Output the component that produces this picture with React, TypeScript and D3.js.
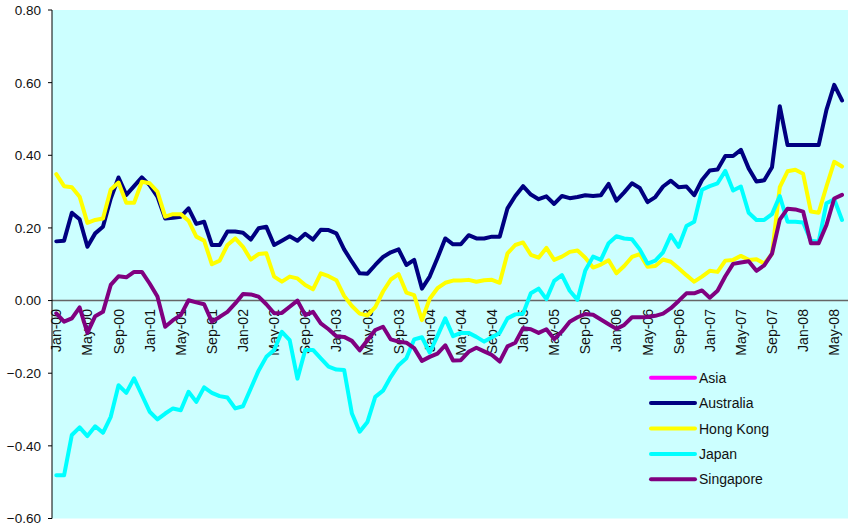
import React from "react";
import * as d3 from "d3";

const MONTHS = ["Jan","Feb","Mar","Apr","May","Jun","Jul","Aug","Sep","Oct","Nov","Dec"];
const categories: string[] = d3.range(102).map(
  (i) => `${MONTHS[i % 12]}-${String(Math.floor(i / 12)).padStart(2, "0")}`
);
const tickLabels = [
  "Jan-00","May-00","Sep-00","Jan-01","May-01","Sep-01","Jan-02","May-02","Sep-02",
  "Jan-03","May-03","Sep-03","Jan-04","May-04","Sep-04","Jan-05","May-05","Sep-05",
  "Jan-06","May-06","Sep-06","Jan-07","May-07","Sep-07","Jan-08","May-08",
];
const yTicks = [0.8, 0.6, 0.4, 0.2, 0, -0.2, -0.4, -0.6];

const asia: number[] = [];
const australia = [
  0.163,0.165,0.242,0.224,0.148,0.185,0.203,0.281,0.339,0.291,0.315,0.339,
  0.318,0.286,0.226,0.228,0.231,0.254,0.211,0.217,0.153,0.153,0.19,0.19,
  0.187,0.168,0.199,0.203,0.153,0.165,0.177,0.165,0.184,0.168,0.195,0.194,
  0.185,0.141,0.107,0.075,0.074,0.098,0.12,0.133,0.141,0.098,0.112,0.033,
  0.066,0.117,0.171,0.155,0.155,0.18,0.171,0.171,0.176,0.176,0.254,0.288,
  0.315,0.292,0.279,0.287,0.266,0.288,0.282,0.285,0.29,0.288,0.29,0.321,
  0.275,0.298,0.323,0.31,0.271,0.285,0.314,0.33,0.312,0.314,0.29,0.332,
  0.358,0.361,0.398,0.398,0.415,0.364,0.328,0.331,0.367,0.535,0.428,0.428,
  0.428,0.428,0.428,0.525,0.594,0.551,
];
const hongKong = [
  0.348,0.315,0.312,0.286,0.214,0.222,0.226,0.306,0.325,0.269,0.269,0.327,
  0.323,0.3,0.231,0.238,0.238,0.22,0.176,0.165,0.1,0.11,0.153,0.171,
  0.148,0.113,0.128,0.13,0.066,0.052,0.066,0.061,0.043,0.031,0.075,0.067,
  0.056,0.013,-0.015,-0.036,-0.041,-0.018,0.025,0.058,0.073,0.022,0.015,-0.054,
  0.005,0.034,0.049,0.055,0.055,0.057,0.052,0.056,0.057,0.049,0.13,0.153,
  0.16,0.126,0.118,0.145,0.112,0.121,0.134,0.138,0.118,0.091,0.099,0.111,
  0.075,0.095,0.12,0.128,0.093,0.095,0.113,0.107,0.089,0.07,0.052,0.066,
  0.082,0.079,0.11,0.112,0.123,0.112,0.114,0.102,0.128,0.312,0.356,0.36,
  0.349,0.245,0.242,0.314,0.382,0.369,
];
const japan = [
  -0.481,-0.481,-0.37,-0.349,-0.373,-0.346,-0.364,-0.32,-0.233,-0.254,-0.214,-0.26,
  -0.306,-0.327,-0.311,-0.297,-0.302,-0.251,-0.279,-0.239,-0.254,-0.263,-0.267,-0.297,
  -0.291,-0.242,-0.193,-0.155,-0.136,-0.086,-0.109,-0.215,-0.136,-0.136,-0.159,-0.182,
  -0.19,-0.191,-0.311,-0.361,-0.334,-0.265,-0.248,-0.21,-0.178,-0.159,-0.107,-0.101,
  -0.143,-0.097,-0.049,-0.098,-0.089,-0.089,-0.1,-0.113,-0.101,-0.089,-0.049,-0.038,
  -0.036,0.02,0.033,0.004,0.054,0.07,0.027,0.002,0.083,0.121,0.112,0.158,
  0.177,0.171,0.169,0.141,0.102,0.11,0.133,0.18,0.148,0.205,0.217,0.305,
  0.315,0.323,0.357,0.303,0.314,0.242,0.222,0.222,0.238,0.288,0.217,0.217,
  0.215,0.165,0.162,0.268,0.279,0.222,
];
const singapore = [
  -0.035,-0.058,-0.049,-0.019,-0.089,-0.043,-0.031,0.043,0.067,0.064,0.079,0.079,
  0.047,0.011,-0.072,-0.054,-0.04,0.001,-0.005,-0.01,-0.058,-0.045,-0.031,-0.008,
  0.018,0.017,0.011,-0.01,-0.035,-0.034,-0.017,0.0,-0.04,-0.031,-0.063,-0.079,
  -0.098,-0.1,-0.111,-0.137,-0.109,-0.081,-0.072,-0.107,-0.113,-0.116,-0.131,-0.166,
  -0.155,-0.146,-0.123,-0.165,-0.164,-0.141,-0.13,-0.14,-0.15,-0.168,-0.126,-0.116,
  -0.076,-0.079,-0.089,-0.079,-0.106,-0.085,-0.058,-0.046,-0.037,-0.039,-0.052,-0.065,
  -0.078,-0.067,-0.046,-0.046,-0.045,-0.042,-0.036,-0.021,-0.001,0.02,0.02,0.028,
  0.008,0.027,0.067,0.101,0.105,0.108,0.082,0.097,0.129,0.223,0.253,0.251,
  0.245,0.158,0.158,0.208,0.281,0.291,
];

const seriesNames = ["Asia", "Australia", "Hong Kong", "Japan", "Singapore"];
const seriesColors = ["#FF00FF", "#000080", "#FFFF00", "#00FFFF", "#800080"];
const seriesValues = [asia, australia, hongKong, japan, singapore];

const W = 848, H = 525;
const PL = 52, PR = 848, PT = 10, PB = 518.5;
const FONT = "'Liberation Sans', Arial, Helvetica, sans-serif";

export default function App() {
  const x = d3.scalePoint<string>().domain(categories).range([52.4, 845.9]).padding(0.5);
  const y = d3.scaleLinear().domain([-0.6, 0.8]).range([PB, PT]);
  const line = d3
    .line<number>()
    .x((_, i) => x(categories[i]) as number)
    .y((d) => y(d));

  return (
    <svg
      width={W}
      height={H}
      style={{ position: "absolute", left: 0, top: 0, display: "block", background: "#fff" }}
      fontFamily={FONT}
    >
      <rect x={PL} y={PT} width={PR - PL} height={PB - PT} fill="#CCFFFF" />
      <line x1={PL} x2={PR} y1={y(0)} y2={y(0)} stroke="#666666" strokeWidth={1.6} />
      <line x1={PL} x2={PL} y1={PT} y2={PB} stroke="#000" strokeWidth={1} />
      {yTicks.map((t) => (
        <g key={t}>
          <line x1={PL - 4} x2={PL} y1={y(t)} y2={y(t)} stroke="#000" />
          <text x={41} y={y(t)} dy="0.36em" textAnchor="end" fontSize={13.5} fill="#111">
            {d3.format(".2f")(t)}
          </text>
        </g>
      ))}
      {tickLabels.map((lab) => (
        <text
          key={lab}
          transform={`translate(${x(lab)},${y(0) + 8.5}) rotate(-90)`}
          dy="0.36em"
          textAnchor="end"
          fontSize={14}
          fill="#111"
        >
          {lab}
        </text>
      ))}
      {seriesValues.map((vals, si) =>
        vals.length ? (
          <path
            key={seriesNames[si]}
            d={line(vals) || ""}
            fill="none"
            stroke={seriesColors[si]}
            strokeWidth={4}
            strokeLinejoin="round"
            strokeLinecap="round"
          />
        ) : null
      )}
      {seriesNames.map((name, i) => {
        const ly = 377.7 + i * 25.4;
        return (
          <g key={name}>
            <line x1={651} x2={695} y1={ly} y2={ly} stroke={seriesColors[i]} strokeWidth={4} strokeLinecap="round" />
            <text x={699} y={ly} dy="0.36em" fontSize={14} fill="#111">
              {name}
            </text>
          </g>
        );
      })}
    </svg>
  );
}
